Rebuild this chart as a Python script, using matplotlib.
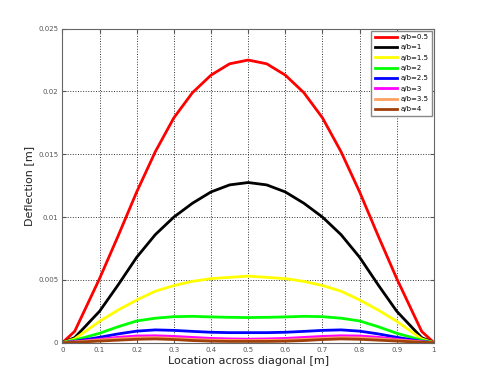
import matplotlib
matplotlib.use("Agg")
import matplotlib.pyplot as plt

# location across the diagonal (left half, curves are symmetric)
x_half = [0, 0.033, 0.1, 0.15, 0.2, 0.25, 0.3, 0.35, 0.4, 0.45, 0.5]

# deflection, left half incl. the middle point
d05 = [0, 0.0009, 0.0051, 0.0085, 0.0120, 0.0152, 0.0179, 0.0199, 0.0213, 0.0222, 0.0225]
d1 = [0, 0.0004, 0.0025, 0.0046, 0.0068, 0.0086, 0.0100, 0.0111, 0.0120, 0.01256, 0.01275]
d15 = [0, 0.0003, 0.0017, 0.0026, 0.0034, 0.0041, 0.00455, 0.00488, 0.0051, 0.0052, 0.0053]
d2 = [0, 0.0002, 0.00075, 0.00127, 0.00173, 0.00195, 0.00207, 0.0021, 0.00205, 0.00202, 0.0020]
d25 = [0, 0.0001, 0.00043, 0.0007, 0.00092, 0.00102, 0.00098, 0.0009, 0.00083, 0.0008, 0.0008]
d3 = [0, 0.00007, 0.00027, 0.00043, 0.00053, 0.00055, 0.0005, 0.00042, 0.00034, 0.0003, 0.00028]
d35 = [0, 0.00005, 0.0002, 0.0003, 0.00038, 0.0004, 0.00034, 0.00026, 0.0002, 0.00018, 0.00017]
d4 = [0, 0.00003, 0.00013, 0.0002, 0.00027, 0.0003, 0.00025, 0.00017, 0.00012, 0.0001, 0.0001]

labels = ['a/b=0.5', 'a/b=1', 'a/b=1.5', 'a/b=2', 'a/b=2.5', 'a/b=3', 'a/b=3.5', 'a/b=4']
colors = ['#ff0000', '#000000', '#ffff00', '#00ff00', '#0000ff', '#ff00ff', '#ffa060', '#a0400a']
series = [d05, d1, d15, d2, d25, d3, d35, d4]


def mirror(xs, ys):
    # right half is the mirror image of the left half
    xx = list(xs) + [1 - v for v in reversed(xs[:-1])]
    yy = list(ys) + list(reversed(ys[:-1]))
    return xx, yy


fig = plt.figure(figsize=(4.8, 3.87), dpi=100)
ax = fig.add_axes([0.13, 0.1145, 0.774, 0.8115])

for ys, c, lab in zip(series, colors, labels):
    xx, yy = mirror(x_half, ys)
    ax.plot(xx, yy, color=c, lw=2, label=lab)

ax.set_xlim(0, 1)
ax.set_ylim(0, 0.025)
ax.set_xticks([0, 0.1, 0.2, 0.3, 0.4, 0.5, 0.6, 0.7, 0.8, 0.9, 1])
ax.set_xticklabels(['0', '0.1', '0.2', '0.3', '0.4', '0.5', '0.6', '0.7', '0.8', '0.9', '1'])
ax.set_yticks([0, 0.005, 0.01, 0.015, 0.02, 0.025])
ax.set_yticklabels(['0', '0.005', '0.01', '0.015', '0.02', '0.025'])
ax.tick_params(direction='in', labelsize=5, colors='#555555', length=3, pad=3,
               top=True, right=True)
ax.grid(True, linestyle=':', color='#333333', lw=0.7)
for s in ax.spines.values():
    s.set_color('#666666')

ax.set_xlabel('Location across diagonal [m]', fontsize=8, color='#222222', labelpad=2)
ax.set_ylabel('Deflection [m]', fontsize=8, color='#222222', labelpad=3)

leg = ax.legend(loc='upper right', fontsize=5, handlelength=3.2, labelspacing=0.62,
                handletextpad=0.5, borderpad=0.5, borderaxespad=0.3,
                fancybox=False, framealpha=1, edgecolor='#888888')

fig.savefig('out.png', dpi=100)
